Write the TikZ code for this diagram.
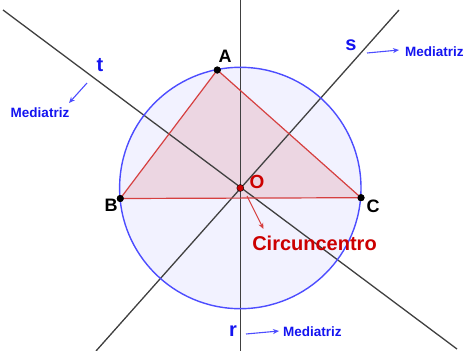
\documentclass[tikz,border=0pt]{standalone}
\usepackage{fontspec}
\setmainfont{Liberation Sans}
\usetikzlibrary{arrows.meta}
\definecolor{circfill}{RGB}{242,242,255}
\definecolor{circline}{RGB}{77,77,255}
\definecolor{trifill}{RGB}{236,214,226}
\definecolor{triline}{RGB}{214,64,64}
\definecolor{medline}{RGB}{64,64,64}
\definecolor{lblue}{RGB}{20,20,240}
\definecolor{ared}{RGB}{204,0,0}
\tikzset{
  medl/.style={draw=medline,line width=1.3pt},
  pt/.style={circle,fill=black,inner sep=0pt,minimum size=7pt},
  ptlbl/.style={font=\bfseries\fontsize{18}{20}\selectfont,text=black,inner sep=0pt},
  linelbl/.style={font=\bfseries\fontsize{20}{22}\selectfont,text=lblue,inner sep=0pt},
  medtxt/.style={font=\bfseries\fontsize{13.5}{16}\selectfont,text=lblue,inner sep=0pt},
  barrow/.style={draw=circline,line width=1.1pt,-{Stealth[length=6pt,width=5pt]}},
  rarrow/.style={draw=triline,line width=1.1pt,-{Stealth[length=6pt,width=5pt]}}
}
\begin{document}
\begin{tikzpicture}[x=1pt,y=-1pt]
\useasboundingbox (0,0) rectangle (464,351);
\coordinate (Oc) at (240.3,188);
\fill[circfill] (Oc) circle (120.7);
\fill[trifill] (217.3,70) -- (120.3,198.5) -- (361,197.7) -- cycle;
% perpendicular bisectors
\coordinate (t1) at (3,10);
\coordinate (t2) at (457,349);
\coordinate (s1) at (399,10);
\coordinate (s2) at (96,351);
\coordinate (r1) at (240.3,0);
\coordinate (r2) at (240.3,351);
\draw[medl] (t1) -- (t2);
\draw[medl] (s1) -- (s2);
\draw[medl] (r1) -- (r2);
\draw[circline,line width=1.4pt] (Oc) circle (120.7);
\node[pt] (A) at (217.3,70) {};
\node[pt] (B) at (120.3,198.5) {};
\node[pt] (C) at (361,197.7) {};
\draw[triline,line width=1.2pt] (A.center) -- (B.center) -- (C.center) -- cycle;
\node[pt] at (A) {};
\node[pt] at (B) {};
\node[pt] at (C) {};
\node[circle,fill=ared,draw=black,line width=0.4pt,inner sep=0pt,minimum size=7pt] (O) at (Oc) {};
% labels
\node[ptlbl] (Al) at (225,56) {A};
\node[ptlbl] (Bl) at (111,205) {B};
\node[ptlbl] (Cl) at (373,206) {C};
\node[font=\bfseries\fontsize{19}{21}\selectfont,text=ared,inner sep=0pt] (Ol) at (257,182) {O};
\node[font=\bfseries\fontsize{20}{22}\selectfont,text=ared,inner sep=0pt] (circ) at (314.5,243) {Circuncentro};
\coordinate (ca1) at (247,196);
\draw[rarrow] (ca1) -- (263.5,229);
\node[linelbl] (tl) at (100,65) {t};
\node[linelbl] (sl) at (351,45) {s};
\node[linelbl] (rl) at (233,331) {r};
\node[medtxt] (mt) at (40,113) {Mediatriz};
\node[medtxt,anchor=west] (ms) at (405,52) {Mediatriz};
\node[medtxt,anchor=west] (mr) at (283,332) {Mediatriz};
\coordinate (ta) at (87,83);
\coordinate (sa) at (367,53);
\coordinate (ra) at (246,334);
\draw[barrow] (ta) -- (69,103);
\draw[barrow] (sa) -- (399,50);
\draw[barrow] (ra) -- (279,331);
\end{tikzpicture}
\end{document}
